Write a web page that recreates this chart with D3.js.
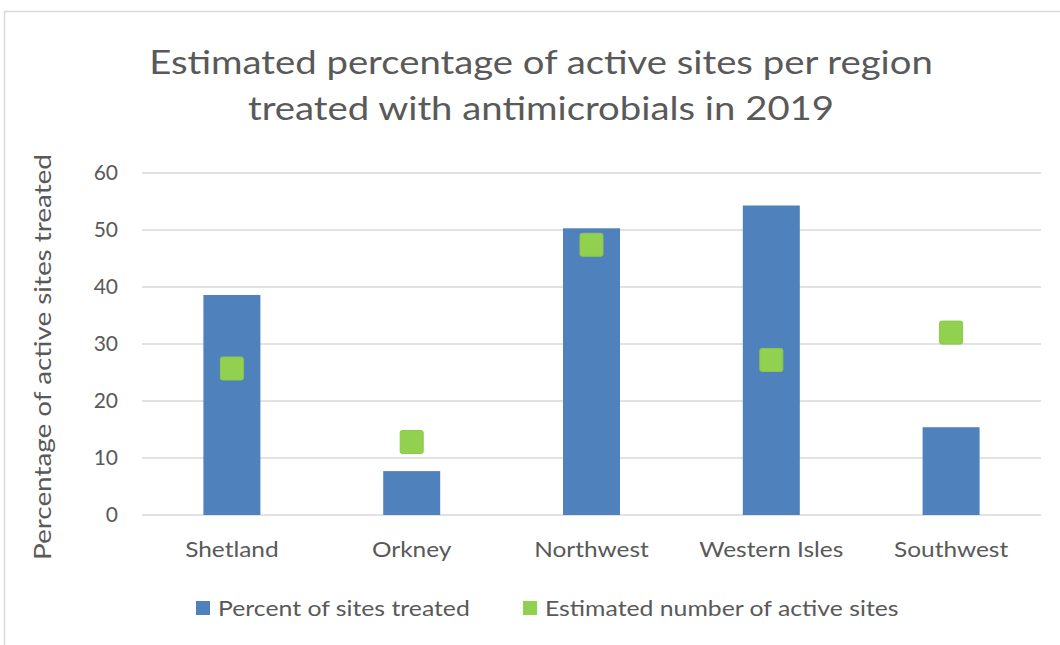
<!DOCTYPE html>
<html>
<head>
<meta charset="utf-8">
<script src="https://cdn.jsdelivr.net/npm/d3@7"></script>
<style>
  body { margin: 0; background: #fff; }
  text { font-family: Lato, "Open Sans", sans-serif; fill: #595959; }
</style>
</head>
<body>
<svg id="svg"></svg>
<script>
// chart data
const regions = ['Shetland', 'Orkney', 'Northwest', 'Western Isles', 'Southwest'];
const percentTreated = [38.6, 7.7, 50.3, 54.3, 15.4];
const activeSites = [25.7, 12.8, 47.4, 27.2, 32.0];
const yTicks = [0, 10, 20, 30, 40, 50, 60];
const seriesNames = ['Percent of sites treated', 'Estimated number of active sites'];
const titleLines = ['Estimated percentage of active sites per region', 'treated with antimicrobials in 2019'];

const width = 1060;
const height = 645;
const plot = { left: 142, right: 1041, top: 173, bottom: 515 };

// the original font is narrower-looking but wider per glyph run, so widen text a bit
function stretch(sel, k) {
  sel.each(function() {
    const len = this.getComputedTextLength();
    d3.select(this)
      .attr('textLength', len * k)
      .attr('lengthAdjust', 'spacingAndGlyphs');
  });
}

const svg = d3.select('#svg')
  .attr('width', width)
  .attr('height', height);

// chart frame
svg.append('path')
  .attr('d', `M4.5,${height} V11.5 H${width}`)
  .attr('fill', 'none')
  .attr('stroke', '#d9d9d9')
  .attr('stroke-width', 1.5);

// SCALES
const xScale = d3.scaleBand()
  .domain(regions)
  .range([plot.left, plot.right])
  .padding(0);

const yScale = d3.scaleLinear()
  .domain([0, 60])
  .range([plot.bottom, plot.top]);

const barWidth = xScale.bandwidth() * 0.317;
const markerSize = 23;

// TITLE
svg.append('g')
  .selectAll('text')
  .data(titleLines)
  .enter()
  .append('text')
  .attr('x', 541)
  .attr('y', (d, i) => 74 + i * 46)
  .attr('text-anchor', 'middle')
  .attr('font-size', 33)
  .text(d => d)
  .call(stretch, 1.16);

// GRIDLINES
svg.append('g')
  .selectAll('line')
  .data(yTicks)
  .enter()
  .append('line')
  .attr('x1', plot.left)
  .attr('x2', plot.right)
  .attr('y1', d => yScale(d))
  .attr('y2', d => yScale(d))
  .attr('stroke', '#d9d9d9')
  .attr('stroke-width', 1.5);

// Y AXIS
const yAxis = svg.append('g')
  .attr('transform', 'translate(118, 0)')
  .call(d3.axisLeft(yScale).tickValues(yTicks).tickSize(0).tickPadding(0));
yAxis.select('.domain').remove();
yAxis.selectAll('text')
  .attr('font-size', 21)
  .attr('font-family', null)
  .attr('fill', null);

// Y AXIS LABEL
svg.append('text')
  .attr('transform', `translate(51, 357) rotate(-90)`)
  .attr('text-anchor', 'middle')
  .attr('font-size', 24)
  .text('Percentage of active sites treated')
  .call(stretch, 1.16);

// X AXIS
const xAxis = svg.append('g')
  .attr('transform', `translate(0, ${plot.bottom})`)
  .call(d3.axisBottom(xScale).tickSize(0).tickPadding(26));
xAxis.select('.domain').remove();
xAxis.selectAll('text')
  .attr('font-size', 22)
  .attr('font-family', null)
  .attr('fill', null)
  .call(stretch, 1.11);

// BARS
svg.append('g')
  .selectAll('rect')
  .data(regions)
  .enter()
  .append('rect')
  .attr('x', d => xScale(d) + xScale.bandwidth() / 2 - barWidth / 2)
  .attr('y', (d, i) => yScale(percentTreated[i]))
  .attr('width', barWidth)
  .attr('height', (d, i) => yScale(0) - yScale(percentTreated[i]))
  .attr('fill', '#4f81bd');

// MARKERS
svg.append('g')
  .selectAll('rect')
  .data(regions)
  .enter()
  .append('rect')
  .attr('x', d => xScale(d) + xScale.bandwidth() / 2 - markerSize / 2)
  .attr('y', (d, i) => yScale(activeSites[i]) - markerSize / 2)
  .attr('width', markerSize)
  .attr('height', markerSize)
  .attr('rx', 2)
  .attr('fill', '#92d050')
  .attr('stroke', '#8cc84b')
  .attr('stroke-width', 1);

// LEGEND
const legendColors = ['#4f81bd', '#92d050'];
const legendX = [196, 523];
const legend = svg.append('g')
  .selectAll('g')
  .data(seriesNames)
  .enter()
  .append('g')
  .attr('transform', (d, i) => `translate(${legendX[i]}, 601)`);

legend.append('rect')
  .attr('width', 14)
  .attr('height', 14)
  .attr('fill', (d, i) => legendColors[i]);

legend.append('text')
  .attr('x', 22)
  .attr('y', 15)
  .attr('font-size', 21)
  .text(d => d)
  .call(stretch, 1.18);
</script>
</body>
</html>
